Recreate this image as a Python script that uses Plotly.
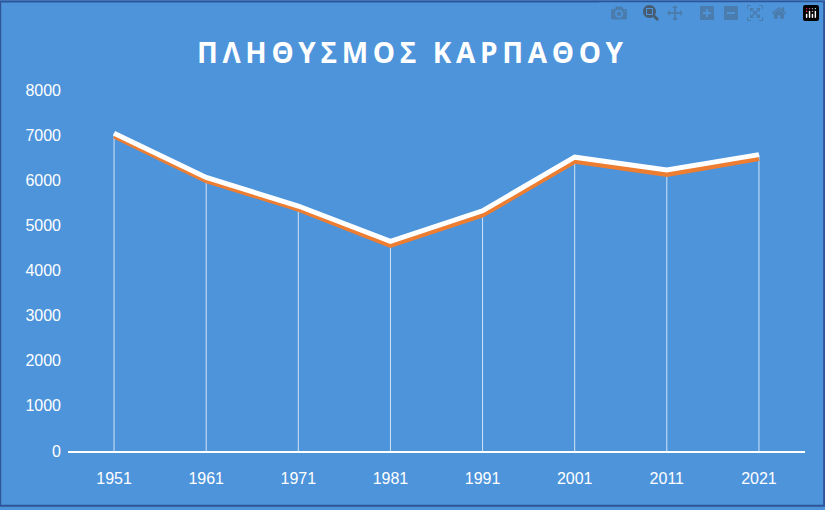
import plotly.graph_objects as go

years = ["1951", "1961", "1971", "1981", "1991", "2001", "2011", "2021"]
population = [7043, 6061, 5429, 4645, 5323, 6511, 6226, 6568]
shadow = [6980, 5990, 5360, 4560, 5230, 6420, 6130, 6480]
y_ticks = [0, 1000, 2000, 3000, 4000, 5000, 6000, 7000, 8000]
title = "ΠΛΗΘΥΣΜΟΣ ΚΑΡΠΑΘΟΥ"

fig = go.Figure()
fig.add_trace(go.Scatter(x=years, y=population, mode="none",
    error_y=dict(type="data", symmetric=False, array=[0]*len(years), arrayminus=population,
                 color="rgba(255,255,255,0.75)", thickness=1, width=0),
    hoverinfo="skip"))
fig.add_trace(go.Scatter(x=years, y=shadow, mode="lines",
    line=dict(color="#ED7D31", width=5), hoverinfo="skip"))
fig.add_trace(go.Scatter(x=years, y=population, mode="lines",
    line=dict(color="white", width=5)))

spaced = "\u2009".join(title)
fig.update_layout(
    width=825, height=510, showlegend=False,
    paper_bgcolor="#4D94DB", plot_bgcolor="#4D94DB",
    margin=dict(l=68, r=20, t=90, b=59),
    title=dict(text="<b>" + spaced + "</b>", x=0.497, y=0.915, xanchor="center",
               font=dict(family="Open Sans", size=28, color="white")),
    font=dict(family="Liberation Sans", color="white", size=16),
    xaxis=dict(type="category", range=[-0.5, 7.5], showgrid=False, showline=True,
               linecolor="white", linewidth=2, ticks="", ticklabelstandoff=12,
               tickfont=dict(size=16)),
    yaxis=dict(range=[0, 8000], tickvals=y_ticks, showgrid=False, zeroline=False,
               ticks="", tickfont=dict(size=16), ticklabelstandoff=6),
    shapes=[dict(type="rect", xref="paper", yref="paper", x0=-0.092, x1=1.026, y0=-0.152, y1=1.245,
                 line=dict(color="#2F5597", width=2))],
)
fig.write_html("out.html")
with open("out.html", encoding="utf-8") as f:
    html = f.read()
html = html.replace("<head>", "<head><style>body{margin:0;}</style>", 1)
with open("out.html", "w", encoding="utf-8") as f:
    f.write(html)
